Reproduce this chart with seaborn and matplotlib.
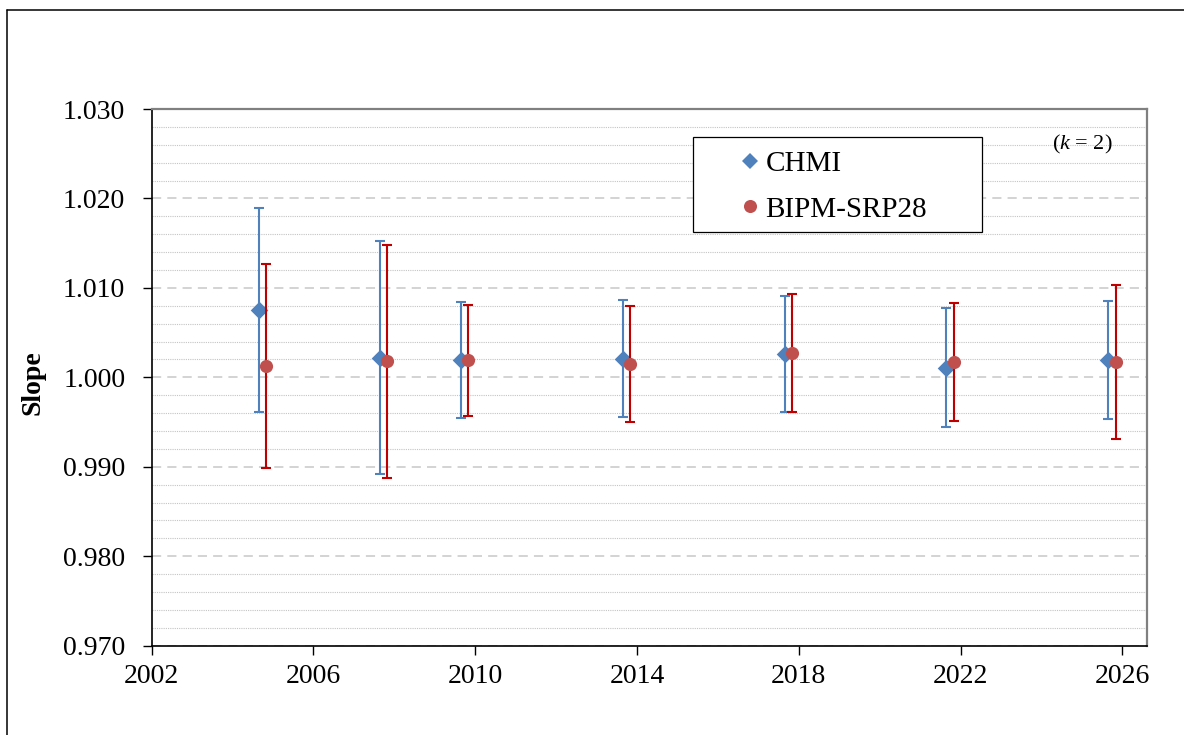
import pandas as pd
import matplotlib.pyplot as plt
import seaborn as sns
from matplotlib.lines import Line2D
from matplotlib.patches import Rectangle
from matplotlib.ticker import MultipleLocator, FormatStrFormatter

sns.set_theme(style="white")
plt.rcParams['font.family'] = ['Liberation Serif', 'DejaVu Serif']
plt.rcParams['mathtext.fontset'] = 'custom'
plt.rcParams['mathtext.rm'] = 'Liberation Serif'
plt.rcParams['mathtext.it'] = 'Liberation Serif:italic'

# values (slope, expanded uncertainty k=2)
chmi_year = [2004.65, 2007.65, 2009.65, 2013.65, 2017.65, 2021.65, 2025.65]
chmi_slope = [1.0075, 1.0022, 1.0019, 1.0021, 1.0026, 1.0011, 1.0019]
chmi_unc = [0.0114, 0.0130, 0.0065, 0.0065, 0.0065, 0.0066, 0.0066]

bipm_year = [2004.83, 2007.83, 2009.83, 2013.83, 2017.83, 2021.83, 2025.83]
bipm_slope = [1.0013, 1.0018, 1.0019, 1.0015, 1.0027, 1.0017, 1.0017]
bipm_unc = [0.0114, 0.0130, 0.0062, 0.0065, 0.0066, 0.0066, 0.0086]

labs = ["CHMI", "BIPM-SRP28"]
x_ticks = [2002, 2006, 2010, 2014, 2018, 2022, 2026]

df = pd.concat([
    pd.DataFrame({"year": chmi_year, "slope": chmi_slope, "U": chmi_unc, "lab": labs[0]}),
    pd.DataFrame({"year": bipm_year, "slope": bipm_slope, "U": bipm_unc, "lab": labs[1]}),
], ignore_index=True)

styles = {
    "CHMI": dict(marker="D", color="#4F81BD", ecolor="#4F81BD", s=80),
    "BIPM-SRP28": dict(marker="o", color="#C0504D", ecolor="#C00000", s=90),
}

fig = plt.figure(figsize=(11.84, 7.35), dpi=100)
ax = fig.add_axes([0.1281, 0.1215, 0.8404, 0.7302])

z = 2
for lab in labs:
    d = df[df["lab"] == lab]
    st = styles[lab]
    ax.errorbar(d["year"], d["slope"], yerr=d["U"], fmt="none", ecolor=st["ecolor"],
                elinewidth=1.5, capsize=3.4, capthick=1.5, zorder=z)
    sns.scatterplot(data=d, x="year", y="slope", marker=st["marker"], color=st["color"],
                    s=st["s"], linewidth=0, ax=ax, zorder=z + 1, legend=False)
    z += 2

ax.set_xlim(2002, 2026.6)
ax.set_ylim(0.970, 1.030)
ax.set_xticks(x_ticks)
ax.yaxis.set_major_locator(MultipleLocator(0.01))
ax.yaxis.set_minor_locator(MultipleLocator(0.002))
ax.yaxis.set_major_formatter(FormatStrFormatter("%.3f"))

ax.set_axisbelow(True)
ax.grid(which="major", axis="y", color="#C8C8C8", linestyle=(0, (6, 4)), linewidth=1.1)
ax.grid(which="minor", axis="y", color="#C4C4C4", linestyle=(0, (1, 1)), linewidth=0.8)
ax.grid(which="major", axis="x", visible=False)

ax.tick_params(axis="y", which="major", direction="out", length=6.5, width=1.0,
               color="black", labelsize=20, labelcolor="black", pad=12.5, left=True)
ax.tick_params(axis="y", which="minor", length=0)
ax.tick_params(axis="x", direction="out", length=6.5, width=1.0, color="black",
               labelsize=20, labelcolor="black", pad=6.5, bottom=True)

for side in ["left", "bottom"]:
    ax.spines[side].set_color("black")
    ax.spines[side].set_linewidth(1.2)
for side in ["top", "right"]:
    ax.spines[side].set_color("#808080")
    ax.spines[side].set_linewidth(1.6)

ax.set_xlabel("")
ax.set_ylabel("Slope", fontsize=20, fontweight="bold", color="black")
ax.yaxis.set_label_coords(-0.107, 0.49)

# legend box with white fill over the gridlines
ax.add_patch(Rectangle((0.5437, 0.7703), 0.2905, 0.177, transform=ax.transAxes,
                       facecolor="white", edgecolor="black", linewidth=0.9, zorder=8))
handles = [
    Line2D([], [], linestyle="none", marker="D", color="#4F81BD", markersize=8.6, markeredgewidth=0),
    Line2D([], [], linestyle="none", marker="o", color="#C0504D", markersize=9.4, markeredgewidth=0),
]
leg = ax.legend(handles, labs, loc="upper left", bbox_to_anchor=(0.593, 0.922), frameon=False,
                fontsize=21, handlelength=0.6, handletextpad=0.22, labelspacing=0.65,
                borderpad=0, borderaxespad=0)
leg.set_zorder(9)
for t in leg.get_texts():
    t.set_color("black")

ax.text(0.935, 0.933, r"($k$ = 2)", transform=ax.transAxes, fontsize=16,
        ha="center", va="center", color="black", zorder=9)

# outer frame
fig.add_artist(Line2D([0.0062, 0.0062], [0, 0.9864], transform=fig.transFigure, color="black", linewidth=1.1))
fig.add_artist(Line2D([0.0062, 1.0], [0.9864, 0.9864], transform=fig.transFigure, color="black", linewidth=1.1))

fig.savefig("out.png", dpi=100)
plt.close(fig)
